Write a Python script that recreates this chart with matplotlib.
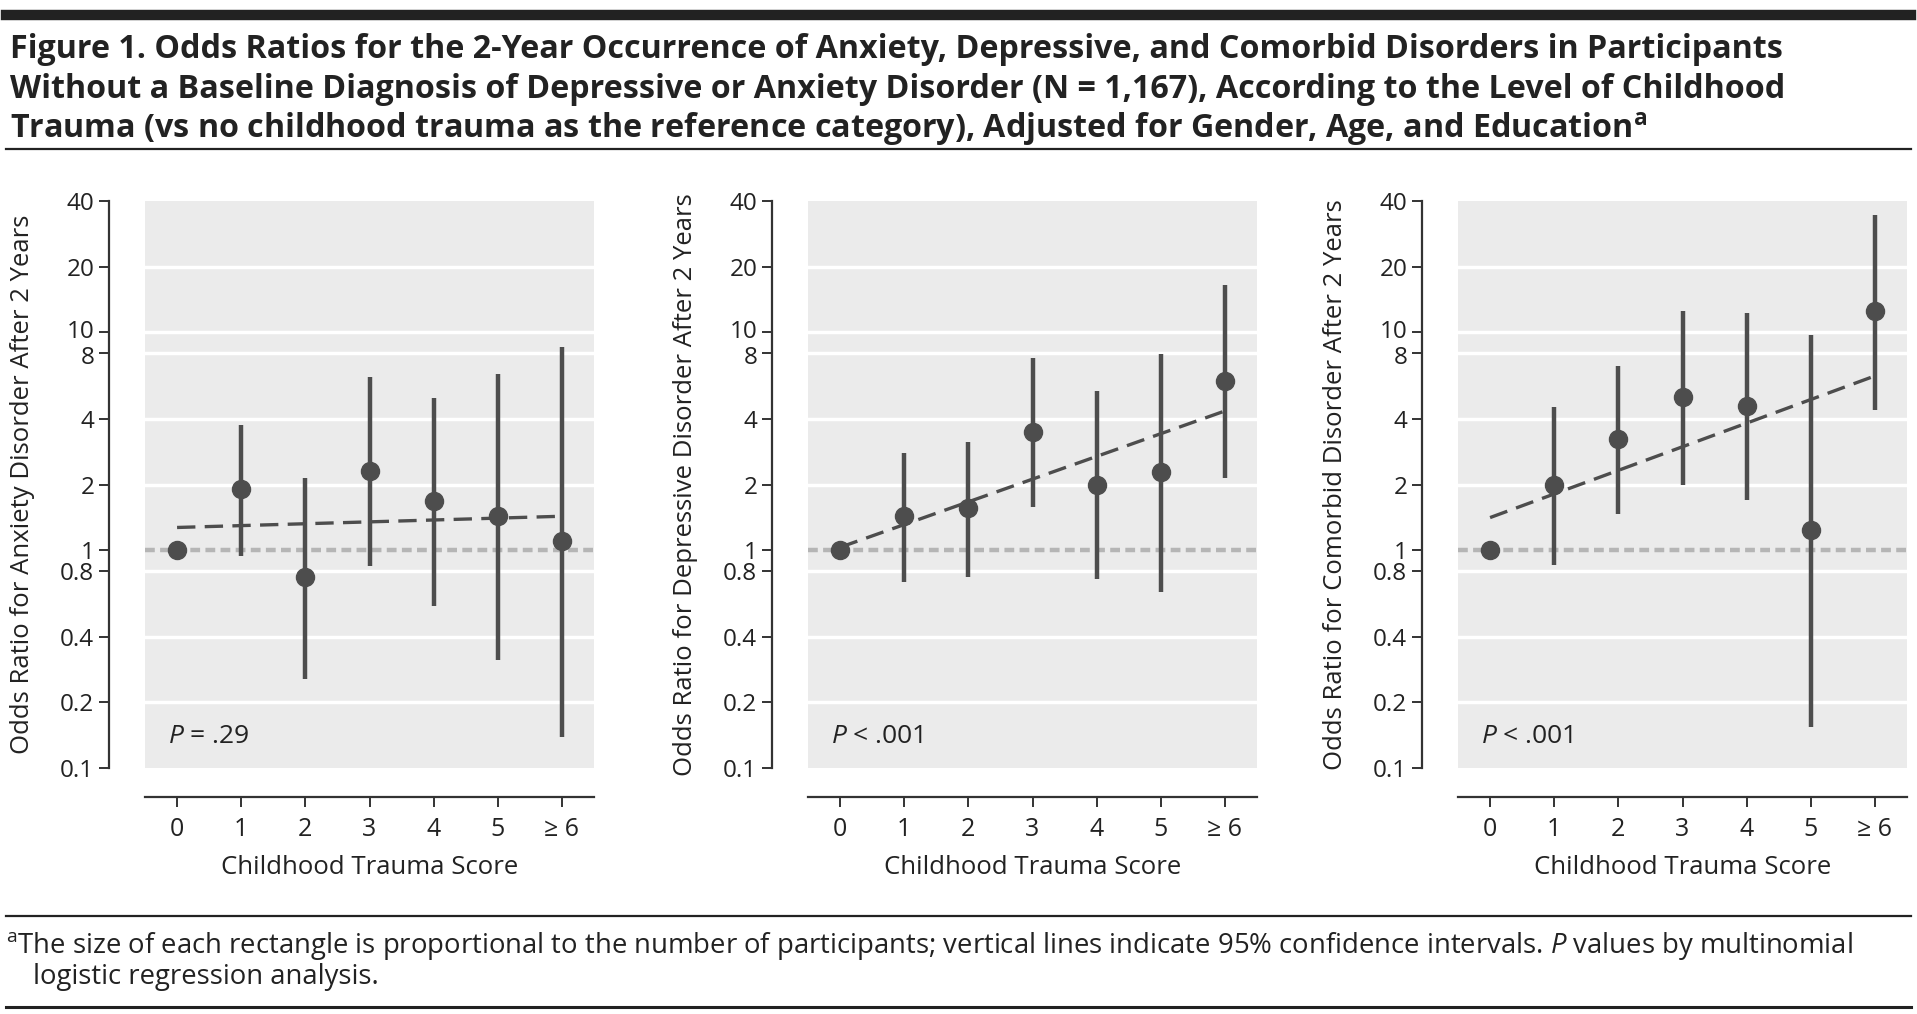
import numpy as np
import matplotlib
matplotlib.use("Agg")
import matplotlib.pyplot as plt
from matplotlib.lines import Line2D
from matplotlib.transforms import ScaledTranslation

plt.rcParams['font.family'] = ['Open Sans', 'DejaVu Sans']
plt.rcParams['mathtext.fontset'] = 'custom'
plt.rcParams['mathtext.rm'] = 'Open Sans'
plt.rcParams['mathtext.it'] = 'Open Sans:italic'
plt.rcParams['mathtext.bf'] = 'Open Sans:bold'

# data
scores = ["0", "1", "2", "3", "4", "5", "≥ 6"]

anx_or = [1.0, 1.90, 0.75, 2.31, 1.68, 1.43, 1.10]
anx_lo = [np.nan, 0.94, 0.257, 0.844, 0.554, 0.312, 0.139]
anx_hi = [np.nan, 3.74, 2.14, 6.25, 5.0, 6.4, 8.57]
anx_trend = [1.27, 1.43]

dep_or = [1.0, 1.43, 1.56, 3.50, 2.0, 2.29, 6.0]
dep_lo = [np.nan, 0.714, 0.756, 1.57, 0.738, 0.639, 2.14]
dep_hi = [np.nan, 2.78, 3.15, 7.64, 5.35, 7.97, 16.5]
dep_trend = [1.03, 4.35]

com_or = [1.0, 2.0, 3.24, 5.05, 4.6, 1.24, 12.5]
com_lo = [np.nan, 0.853, 1.46, 1.98, 1.69, 0.154, 4.39]
com_hi = [np.nan, 4.56, 7.03, 12.5, 12.2, 9.67, 34.5]
com_trend = [1.41, 6.3]

p_texts = ["$\\mathit{P}$ = .29", "$\\mathit{P}$ < .001", "$\\mathit{P}$ < .001"]
ylabels = ["Odds Ratio for Anxiety Disorder After 2 Years",
           "Odds Ratio for Depressive Disorder After 2 Years",
           "Odds Ratio for Comorbid Disorder After 2 Years"]
yticks = [0.1, 0.2, 0.4, 0.8, 1, 2, 4, 8, 10, 20, 40]
ytick_labels = ["0.1", "0.2", "0.4", "0.8", "1", "2", "4", "8", "10", "20", "40"]

panels = [(anx_or, anx_lo, anx_hi, anx_trend),
          (dep_or, dep_lo, dep_hi, dep_trend),
          (com_or, com_lo, com_hi, com_trend)]

dark = "#4d4d4d"
txt = "#222222"
W, H = 1917, 1014
fig = plt.figure(figsize=(W / 100, H / 100), dpi=100)

lefts = [145, 808, 1458]
for i, (orv, lo, hi, tr) in enumerate(panels):
    ax = fig.add_axes([lefts[i] / W, 1 - 768 / H, 449 / W, 567 / H])
    ax.set_facecolor("#ebebeb")
    x = np.arange(len(scores))
    ax.set_yscale("log")
    ax.set_ylim(0.1, 40)
    ax.set_xlim(-0.5, 6.5)
    for g in [0.2, 0.4, 0.8, 2, 4, 8, 10, 20]:
        ax.axhline(g, color="white", lw=2.5, zorder=1)
    ax.axhline(1, color="#b5b5b5", lw=3.2, ls=(0, (2.2, 1.2)), zorder=2)
    ax.vlines(x, lo, hi, color=dark, lw=3.2, zorder=3)
    ax.plot([x[0], x[-1]], tr, color=dark, lw=2.4, ls=(0, (5.5, 2.8)), zorder=4)
    ax.plot(x, orv, "o", color=dark, ms=13, mec=dark, zorder=5)
    ax.text(-0.14, 0.14, p_texts[i], fontsize=19, color=txt, va="center")

    ax.set_yticks(yticks)
    ax.set_yticklabels(ytick_labels)
    ax.minorticks_off()
    ax.set_xticks(x)
    ax.set_xticklabels(scores)
    for s in ["top", "right"]:
        ax.spines[s].set_visible(False)
    ax.spines["left"].set_position(("outward", 26))
    ax.spines["bottom"].set_position(("outward", 21))
    for s in ["left", "bottom"]:
        ax.spines[s].set_color("#333333")
        ax.spines[s].set_linewidth(1.6)
    ax.tick_params(axis="y", length=7, width=1.4, pad=3.5, labelsize=17.5, color="#333333", labelcolor=txt)
    ax.tick_params(axis="x", length=7, width=1.4, pad=7, labelsize=18, color="#333333", labelcolor=txt)
    # keep the crowded "10" and "8" labels apart
    for lab in ax.get_yticklabels():
        if lab.get_text() == "10":
            lab.set_transform(lab.get_transform() + ScaledTranslation(0, 3 / 100, fig.dpi_scale_trans))
        elif lab.get_text() == "8":
            lab.set_transform(lab.get_transform() + ScaledTranslation(0, -2 / 100, fig.dpi_scale_trans))
    ax.set_ylabel(ylabels[i], fontsize=18.5, color=txt)
    ax.yaxis.set_label_coords(-0.245, 0.5)
    ax.set_xlabel("Childhood Trauma Score", fontsize=18.5, color=txt, labelpad=10)

# rules
def rule(y, lw):
    fig.add_artist(Line2D([6 / W, 1911 / W], [1 - y / H, 1 - y / H], color=txt, lw=lw))

rule(15, 7.5)
rule(149, 1.6)
rule(916, 1.6)
rule(1007, 2.2)

title = ["Figure 1. Odds Ratios for the 2-Year Occurrence of Anxiety, Depressive, and Comorbid Disorders in Participants",
         "Without a Baseline Diagnosis of Depressive or Anxiety Disorder (N = 1,167), According to the Level of Childhood",
         "Trauma (vs no childhood trauma as the reference category), Adjusted for Gender, Age, and Education$^{\\mathbf{a}}$"]
for k, line in enumerate(title):
    fig.text(10 / W, 1 - (50 + 39.5 * k) / H, line, fontsize=23.2, fontweight="bold",
             color=txt, va="center", ha="left")

fig.text(6 / W, 1 - 946 / H,
         "$^{\\mathrm{a}}$The size of each rectangle is proportional to the number of participants; vertical lines indicate 95% confidence intervals. $\\mathit{P}$ values by multinomial",
         fontsize=19.8, color=txt, va="center")
fig.text(33 / W, 1 - 977 / H, "logistic regression analysis.", fontsize=19.8, color=txt, va="center")

fig.savefig("out.png", dpi=100)
